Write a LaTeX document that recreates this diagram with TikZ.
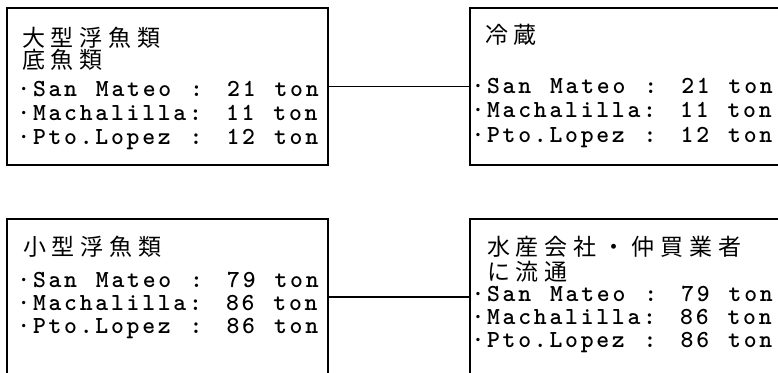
\documentclass[tikz,border=0pt]{standalone}
\usepackage{fontspec}
\newfontfamily\cjk[LetterSpace=26]{Noto Sans CJK JP}
\newfontfamily\latfont[LetterSpace=11.2, WordSpace=1.213]{lmmonolt10-bold.otf}
\tikzset{
  box/.style={draw=black, line width=1.3pt, rectangle, inner sep=0pt, outer sep=0pt},
  link/.style={draw=black, line width=1.1pt},
  jp/.style={anchor=base west, inner sep=0pt, outer sep=0pt, text height=19pt, text depth=2pt, font=\cjk\fontsize{23}{23}\selectfont},
  lat/.style={anchor=base west, inner sep=0pt, outer sep=0pt, text height=16pt, text depth=3pt, font=\latfont\fontsize{24.5}{24.5}\selectfont},
}
\begin{document}
\begin{tikzpicture}[x=1pt,y=-1pt]
\path[use as bounding box] (0,0) rectangle (778,372);
\fill[white] (0,0) rectangle (778,372);
\clip (0,0) rectangle (778,372);
% boxes
\node[box, minimum width=321pt, minimum height=157pt] (A) at (167.5,86.5) {};
\node[box, minimum width=320pt, minimum height=157pt] (B) at (630,86.5) {};
\node[box, minimum width=321pt, minimum height=156pt] (C) at (167.5,297) {};
\node[box, minimum width=320pt, minimum height=156pt] (D) at (630,297) {};
% connectors
\draw[link] (A.east) -- (B.west);
\draw[link] (C.east) -- (D.west);
% top-left text
\node[jp] (a1) at (22,46) {大型浮魚類};
\node[jp] (a2) at (22,68.5) {底魚類};
\node[lat] (a3) at (17.4,96) {·San Mateo : 21 ton};
\node[lat] (a4) at (17.4,120) {·Machalilla: 11 ton};
\node[lat] (a5) at (17.4,144) {·Pto.Lopez : 12 ton};
% top-right text
\node[jp] (b1) at (485,43.5) {冷蔵};
\node[lat] (b3) at (471.5,93) {·San Mateo : 21 ton};
\node[lat] (b4) at (471.5,117.5) {·Machalilla: 11 ton};
\node[lat] (b5) at (471.5,142) {·Pto.Lopez : 12 ton};
% bottom-left text
\node[jp] (c1) at (23,255) {小型浮魚類};
\node[lat] (c3) at (17.4,287) {·San Mateo : 79 ton};
\node[lat] (c4) at (17.4,310) {·Machalilla: 86 ton};
\node[lat] (c5) at (17.4,333) {·Pto.Lopez : 86 ton};
% bottom-right text
\node[jp] (d1) at (487,255) {水産会社・仲買業者};
\node[jp] (d2) at (487,280) {に流通};
\node[lat] (d3) at (471.5,301) {·San Mateo : 79 ton};
\node[lat] (d4) at (471.5,324) {·Machalilla: 86 ton};
\node[lat] (d5) at (471.5,347) {·Pto.Lopez : 86 ton};
\end{tikzpicture}
\end{document}
